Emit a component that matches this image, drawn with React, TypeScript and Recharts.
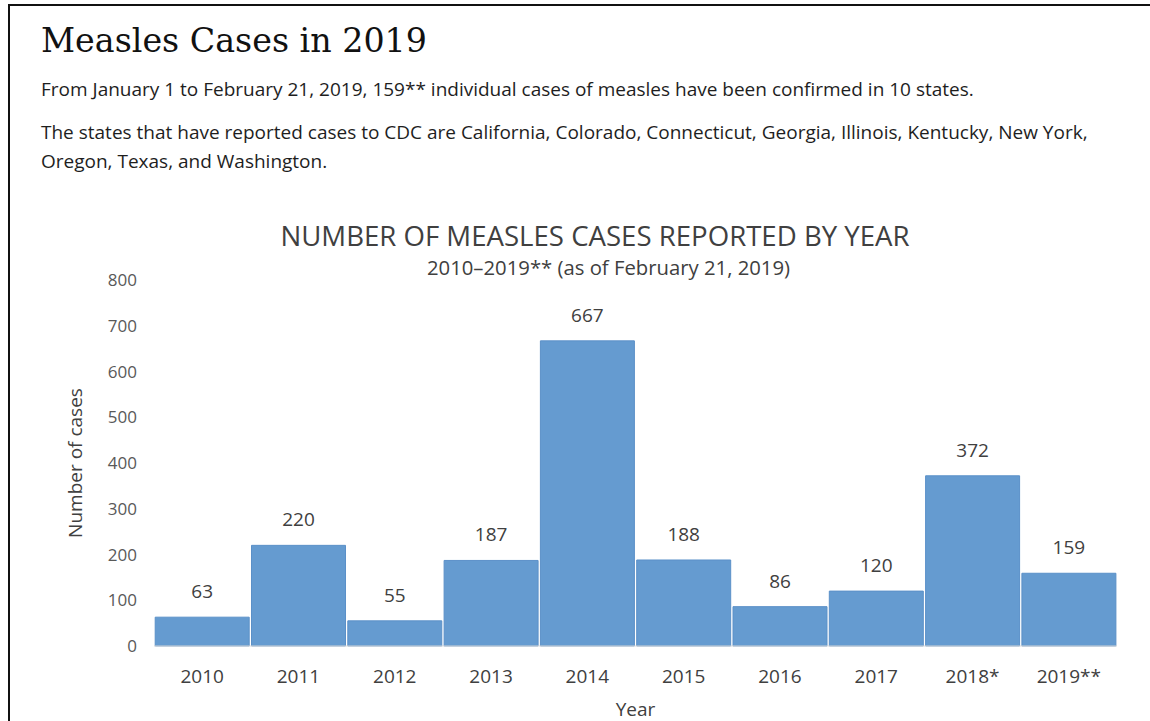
import React from 'react';
import { Bar, BarChart, LabelList, XAxis, YAxis } from 'recharts';

const years = ['2010', '2011', '2012', '2013', '2014', '2015', '2016', '2017', '2018*', '2019**'];
const cases = [63, 220, 55, 187, 667, 188, 86, 120, 372, 159];
const yTicks = [0, 100, 200, 300, 400, 500, 600, 700, 800];

const data = years.map((year, i) => ({ year, cases: cases[i] }));

const SANS = '"Open Sans", sans-serif';

export default function App(): React.ReactElement {
  return (
    <div
      style={{
        position: 'absolute',
        left: 0,
        top: 0,
        width: 1150,
        height: 721,
        overflow: 'hidden',
        background: '#fff',
      }}
    >
      <div
        style={{
          position: 'absolute',
          left: 8,
          top: 4,
          width: 1300,
          height: 900,
          borderLeft: '2px solid #111',
          borderTop: '2px solid #111',
        }}
      />
      <div
        style={{
          position: 'absolute',
          left: 41,
          top: 23.5,
          fontFamily: '"DejaVu Serif", serif',
          fontSize: 33.3,
          lineHeight: '33.3px',
          color: '#111',
          whiteSpace: 'nowrap',
        }}
      >
        Measles Cases in 2019
      </div>
      <div
        style={{
          position: 'absolute',
          left: 41,
          top: 75.4,
          fontFamily: SANS,
          fontSize: 19,
          lineHeight: '28.5px',
          color: '#1e1e1e',
          whiteSpace: 'nowrap',
        }}
      >
        From January 1 to February 21, 2019, 159** individual cases of measles have been confirmed in 10 states.
      </div>
      <div
        style={{
          position: 'absolute',
          left: 41,
          top: 118.4,
          fontFamily: SANS,
          fontSize: 19,
          lineHeight: '28.5px',
          color: '#1e1e1e',
          whiteSpace: 'nowrap',
        }}
      >
        The states that have reported cases to CDC are California, Colorado, Connecticut, Georgia, Illinois, Kentucky, New York,
        <br />
        Oregon, Texas, and Washington.
      </div>
      <div
        style={{
          position: 'absolute',
          left: 0,
          top: 221.5,
          width: 1190,
          textAlign: 'center',
          fontFamily: SANS,
          fontSize: 27.6,
          lineHeight: '27.6px',
          color: '#404040',
          whiteSpace: 'nowrap',
        }}
      >
        NUMBER OF MEASLES CASES REPORTED BY YEAR
      </div>
      <div
        style={{
          position: 'absolute',
          left: 0,
          top: 257,
          width: 1217,
          textAlign: 'center',
          fontFamily: SANS,
          fontSize: 20.3,
          lineHeight: '20.3px',
          color: '#404040',
          whiteSpace: 'nowrap',
        }}
      >
        2010–2019** (as of February 21, 2019)
      </div>
      <div style={{ position: 'absolute', left: 0, top: 0 }}>
        <BarChart
          width={1150}
          height={721}
          data={data}
          margin={{ top: 280, right: 33, bottom: 0, left: 0 }}
          barCategoryGap={1.2}
          style={{ fontFamily: SANS }}
        >
          <XAxis
            dataKey="year"
            height={75}
            axisLine={{ stroke: '#d9d9d9' }}
            tickLine={false}
            tickMargin={17.5}
            tick={{ fill: '#404040', fontSize: 19 }}
            label={{ value: 'Year', position: 'insideBottom', offset: 5, fill: '#404040', fontSize: 19 }}
          />
          <YAxis
            width={154}
            domain={[0, 800]}
            ticks={yTicks}
            axisLine={false}
            tickLine={false}
            tickMargin={11}
            tick={{ fill: '#595959', fontSize: 17 }}
            label={{
              value: 'Number of cases',
              angle: -90,
              position: 'insideLeft',
              offset: 75,
              fill: '#404040',
              fontSize: 19,
              style: { textAnchor: 'middle' },
            }}
          />
          <Bar dataKey="cases" fill="#659bd0" stroke="#5b90c8" strokeWidth={1} isAnimationActive={false}>
            <LabelList dataKey="cases" position="top" offset={19} fill="#404040" fontSize={19} />
          </Bar>
        </BarChart>
      </div>
    </div>
  );
}
